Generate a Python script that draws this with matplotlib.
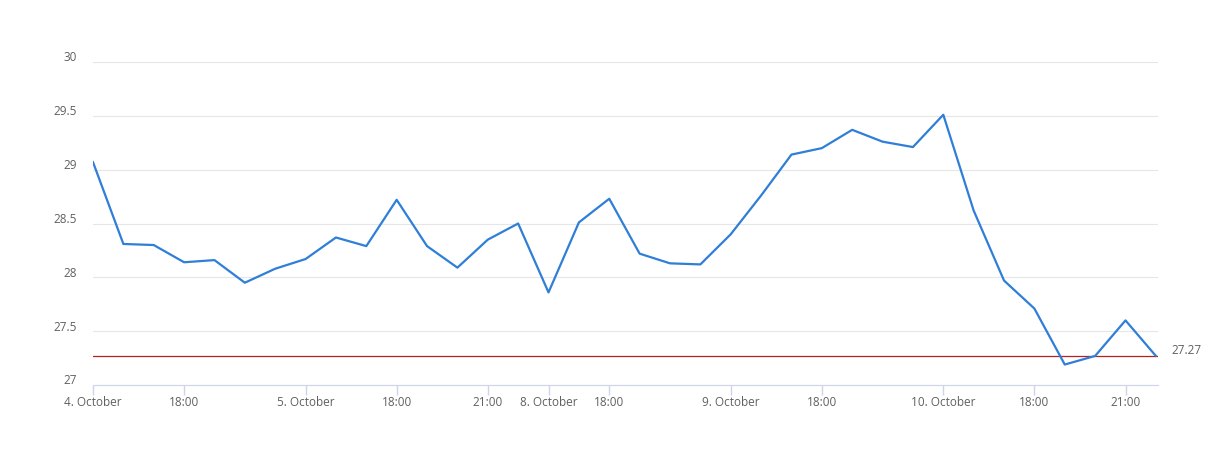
import matplotlib.pyplot as plt
import matplotlib.transforms as mtransforms

plt.rcParams['font.family'] = ['Open Sans', 'DejaVu Sans']

values = [29.07, 28.31, 28.30, 28.14, 28.16, 27.95, 28.08, 28.17, 28.37, 28.29,
          28.72, 28.29, 28.09, 28.35, 28.50, 27.86, 28.51, 28.73, 28.22, 28.13,
          28.12, 28.40, 28.76, 29.14, 29.20, 29.37, 29.26, 29.21, 29.51, 28.62,
          27.97, 27.71, 27.19, 27.27, 27.60, 27.27]
tick_pos = [0, 3, 7, 10, 13, 15, 17, 21, 24, 28, 31, 34]
tick_labels = ["4. October", "18:00", "5. October", "18:00", "21:00", "8. October",
               "18:00", "9. October", "18:00", "10. October", "18:00", "21:00"]
y_ticks = [27, 27.5, 28, 28.5, 29, 29.5, 30]
y_labels = ["27", "27.5", "28", "28.5", "29", "29.5", "30"]
last_value = 27.27

fig = plt.figure(figsize=(12.28, 4.73), dpi=100)
ax = fig.add_axes([93 / 1228, 1 - 385 / 473, (1158 - 93) / 1228, (385 - 62) / 473])

x = list(range(len(values)))
ax.plot(x, values, color="#2f7ed8", lw=1.6, zorder=3)
ax.axhline(last_value, color="#b22222", lw=0.9, zorder=2)

ax.set_xlim(0, 35.07)
ax.set_ylim(27, 30)

ax.set_yticks(y_ticks)
ax.set_yticklabels(y_labels)
ax.grid(axis="y", color="#e6e6e6", lw=0.8)
ax.set_axisbelow(True)
ax.tick_params(axis="y", length=0, pad=11.5, labelsize=8.5, labelcolor="#606060")
shift = mtransforms.ScaledTranslation(0, 4 / 72, fig.dpi_scale_trans)
for lab in ax.get_yticklabels():
    lab.set_transform(lab.get_transform() + shift)

ax.set_xticks(tick_pos)
ax.set_xticklabels(tick_labels)
ax.tick_params(axis="x", length=7, color="#ccd6eb", width=1, pad=1,
               labelsize=8.5, labelcolor="#606060")

for side in ["top", "right", "left"]:
    ax.spines[side].set_visible(False)
ax.spines["bottom"].set_color("#ccd6eb")

ax.annotate(f"{last_value:.2f}", xy=(1, last_value), xycoords=("axes fraction", "data"),
            xytext=(10, 4), textcoords="offset points", fontsize=8.5, color="#606060",
            va="center", ha="left")

fig.savefig("out.png", dpi=100)
